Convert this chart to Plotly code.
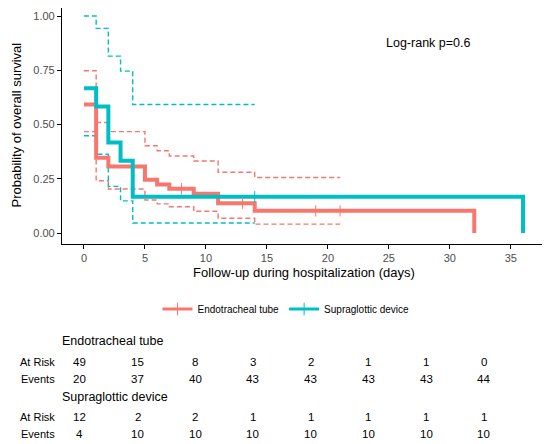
import plotly.graph_objects as go

# ---- data ----
# Endotracheal tube (KM estimate, step times and survival)
et_time = [0, 1, 2, 5, 6, 7, 9, 11, 14, 32]
et_surv = [0.592, 0.347, 0.306, 0.245, 0.224, 0.204, 0.181, 0.137, 0.102, 0.0]
et_censor_time = [8, 13, 19, 21]
et_ci_time = [0, 1, 2, 5, 6, 7, 9, 11, 14, 21]
et_upper = [0.748, 0.509, 0.467, 0.402, 0.379, 0.355, 0.332, 0.28, 0.256, 0.256]
et_lower = [0.467, 0.241, 0.203, 0.152, 0.134, 0.121, 0.10, 0.068, 0.041, 0.041]

# Supraglottic device
sg_time = [0, 1, 2, 3, 4, 36]
sg_surv = [0.667, 0.583, 0.417, 0.333, 0.167, 0.0]
sg_censor_time = [14]
sg_ci_time = [0, 1, 2, 3, 4, 14]
sg_upper = [1.0, 0.943, 0.815, 0.746, 0.592, 0.592]
sg_lower = [0.448, 0.363, 0.215, 0.148, 0.046, 0.046]

# risk table
risk_time = [0, 5, 10, 15, 20, 25, 30, 35]
et_at_risk = [49, 15, 8, 3, 2, 1, 1, 0]
et_events = [20, 37, 40, 43, 43, 43, 43, 44]
sg_at_risk = [12, 2, 2, 1, 1, 1, 1, 1]
sg_events = [4, 10, 10, 10, 10, 10, 10, 10]

x_ticks = [0, 5, 10, 15, 20, 25, 30, 35]
y_ticks = [0, 0.25, 0.5, 0.75, 1.0]
y_tick_text = ["0.00", "0.25", "0.50", "0.75", "1.00"]

RED = "#F8766D"
TEAL = "#00BFC4"
FONT = "Liberation Sans, Arial, sans-serif"

# the page body has an 8px default margin, so work in window pixels
OFF = 8
W, H = 550 - OFF, 444 - OFF


def px_x(px):
    return (px - OFF) / W


def px_y(py):
    return 1 - (py - OFF) / H


def surv_at(times, surv, t):
    # step value of a KM curve at time t
    val = surv[0]
    for ti, si in zip(times, surv):
        if ti <= t:
            val = si
    return val


fig = go.Figure()

# confidence bands (dashed)
for t, lo, up, col in [(et_ci_time, et_lower, et_upper, RED),
                       (sg_ci_time, sg_lower, sg_upper, TEAL)]:
    for yv in (up, lo):
        fig.add_trace(go.Scatter(x=t, y=yv, mode="lines", line_shape="hv",
                                 line=dict(color=col, width=1.4, dash="5px,3px"),
                                 showlegend=False, hoverinfo="skip"))

# survival curves
for t, s, col in [(et_time, et_surv, RED), (sg_time, sg_surv, TEAL)]:
    fig.add_trace(go.Scatter(x=t, y=s, mode="lines", line_shape="hv",
                             line=dict(color=col, width=4),
                             showlegend=False))

# censor marks
for ct, t, s, col in [(et_censor_time, et_time, et_surv, RED),
                      (sg_censor_time, sg_time, sg_surv, TEAL)]:
    fig.add_trace(go.Scatter(x=ct, y=[surv_at(t, s, c) for c in ct], mode="markers",
                             marker=dict(symbol="line-ns", size=8,
                                         line=dict(color=col, width=1)),
                             showlegend=False))

# legend entries
for name, col in [("Endotracheal tube", RED), ("Supraglottic device", TEAL)]:
    fig.add_trace(go.Scatter(x=[None], y=[None], mode="lines+markers", name=name,
                             line=dict(color=col, width=3),
                             marker=dict(symbol="line-ns", size=9,
                                         line=dict(color=col, width=1))))


def note(text, x, y, size, xanchor="center", angle=0, xref="paper"):
    return dict(text=text, x=x, y=y, xref=xref, yref="paper", xanchor=xanchor,
                yanchor="middle", textangle=angle, showarrow=False,
                font=dict(size=size, color="black"))


annotations = [
    note("Log-rank p=0.6", px_x(428), px_y(43), 12.5),
    note("Endotracheal tube", px_x(60), px_y(341), 12.5, "left"),
    note("Supraglottic device", px_x(60), px_y(397), 12.5, "left"),
    note("Follow-up during hospitalization (days)", px_x(304), px_y(272), 13),
    note("Probability of overall survival", px_x(15.5), px_y(125), 13, angle=-90),
]

# risk table rows (x positions through the table's own axis)
rows = [("At Risk", et_at_risk, 362), ("Events", et_events, 379),
        ("At Risk", sg_at_risk, 417), ("Events", sg_events, 434)]
for label, vals, ypix in rows:
    annotations.append(note(label, px_x(57), px_y(ypix), 11, "right"))
    for t, v in zip(risk_time, vals):
        annotations.append(note(str(v), t, px_y(ypix), 11.5, xref="x2"))

axis_style = dict(showgrid=False, zeroline=False, showline=True, linecolor="black",
                  linewidth=1.2, ticks="outside", ticklen=4, tickcolor="black",
                  tickfont=dict(size=11, color="#4D4D4D"), automargin=False)

# y scale: 0 at window px 233, 1 at px 16; plot top clipped at window px 8
y_top = (233 - OFF) / 217
y_bot = -(244 - 233) / 217

fig.update_layout(
    width=W, height=H,
    margin=dict(l=0, r=0, t=0, b=0),
    paper_bgcolor="white", plot_bgcolor="white",
    font=dict(family=FONT, color="black"),
    xaxis=dict(domain=[px_x(62), px_x(545)], range=[-1.8, 37.8], tickvals=x_ticks,
               **axis_style),
    yaxis=dict(domain=[px_y(244), 1], range=[y_bot, y_top],
               tickvals=y_ticks, ticktext=y_tick_text, **axis_style),
    xaxis2=dict(domain=[px_x(59.2), px_x(516)], range=[-1.8, 37.8], anchor="y2",
                visible=False, automargin=False),
    yaxis2=dict(domain=[0, 0.2], range=[0, 1], anchor="x2", visible=False,
                automargin=False),
    legend=dict(orientation="h", x=px_x(286), xanchor="center", y=px_y(309),
                yanchor="middle", font=dict(size=10), itemwidth=30),
    annotations=annotations,
)

fig.write_html("out.html")
